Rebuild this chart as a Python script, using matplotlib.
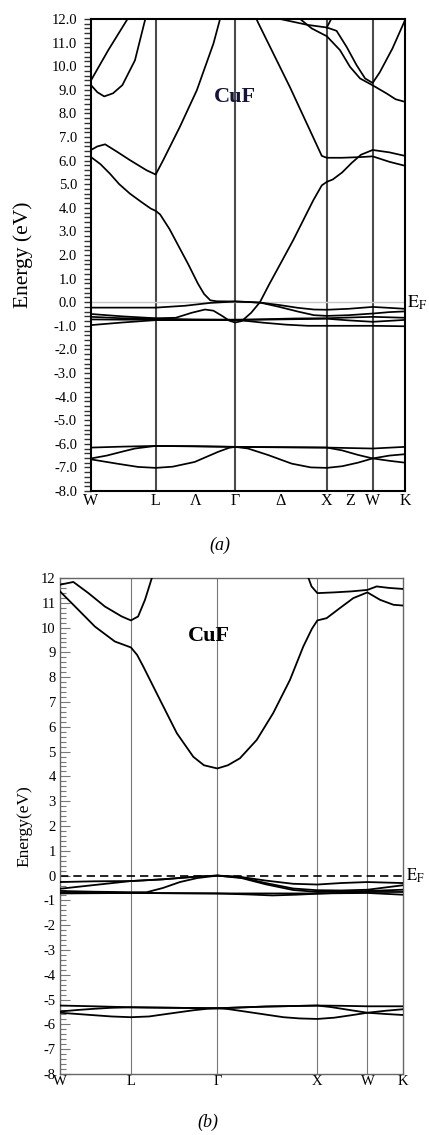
import numpy as np
import matplotlib.pyplot as plt
from matplotlib.ticker import MultipleLocator, FormatStrFormatter

plt.rcParams['font.family'] = ['Liberation Serif', 'DejaVu Serif']
plt.rcParams['mathtext.fontset'] = 'stix'
plt.rcParams['axes.unicode_minus'] = False

# path W-L-Gamma-X-W-K, as fraction of total path length
sym_pos = [0.0, 0.206, 0.459, 0.751, 0.897, 1.0]
labels_a_pos = [0.0, 0.206, 0.333, 0.459, 0.605, 0.751, 0.824, 0.897, 1.0]
labels_a = ['W', 'L', 'Λ', 'Γ', 'Δ', 'X', 'Z', 'W', 'K']
labels_b = ['W', 'L', 'Γ', 'X', 'W', 'K']

# ---- panel (a): bands, (k, E in eV) ----
a_c1 = [(0.0, 6.15), (0.03, 5.85), (0.06, 5.45), (0.09, 5.0), (0.124, 4.6), (0.16, 4.25),
        (0.19, 3.97), (0.206, 3.87), (0.22, 3.72), (0.25, 3.1), (0.28, 2.35), (0.31, 1.6),
        (0.34, 0.8), (0.36, 0.35), (0.38, 0.08), (0.40, 0.04), (0.459, 0.03), (0.50, 0.01),
        (0.54, -0.02), (0.60, -0.12), (0.66, -0.24), (0.71, -0.31), (0.751, -0.32),
        (0.82, -0.28), (0.897, -0.2), (0.95, -0.24), (1.0, -0.28)]
a_c2 = [(0.0, 6.45), (0.02, 6.6), (0.045, 6.69), (0.08, 6.4), (0.124, 6.02), (0.177, 5.59),
        (0.206, 5.41), (0.23, 6.02), (0.283, 7.43), (0.337, 8.98), (0.39, 10.96), (0.411, 12.0),
        (0.459, 13.5), (0.50, 12.8), (0.532, 11.85), (0.634, 9.1), (0.735, 6.2), (0.751, 6.12),
        (0.80, 6.12), (0.86, 6.15), (0.897, 6.18), (0.95, 5.95), (1.0, 5.78)]
a_c3 = [(0.0, 9.2), (0.02, 8.9), (0.042, 8.72), (0.07, 8.85), (0.10, 9.2), (0.14, 10.25),
        (0.172, 11.95), (0.19, 12.9)]
a_c4 = [(0.0, 9.4), (0.055, 10.68), (0.114, 11.95), (0.13, 12.3)]
a_c5 = [(0.602, 12.0), (0.69, 11.75), (0.751, 11.64), (0.782, 11.5), (0.814, 10.82),
        (0.846, 10.04), (0.873, 9.48), (0.897, 9.29), (0.92, 9.75), (0.96, 10.75), (1.0, 11.95)]
a_c6 = [(0.666, 12.0), (0.703, 11.6), (0.751, 11.27), (0.793, 10.68), (0.825, 9.97),
        (0.857, 9.48), (0.897, 9.19), (0.942, 8.84), (0.97, 8.6), (1.0, 8.49)]
a_c7 = [(0.751, 11.64), (0.765, 12.0), (0.78, 12.4)]

a_v1 = [(0.0, -0.23), (0.1, -0.23), (0.206, -0.23), (0.30, -0.15), (0.38, -0.03), (0.459, 0.03),
        (0.50, 0.01), (0.54, -0.02), (0.60, -0.2), (0.66, -0.4), (0.71, -0.55), (0.751, -0.58),
        (0.82, -0.55), (0.897, -0.48), (0.95, -0.42), (1.0, -0.39)]
a_v2 = [(0.0, -0.5), (0.1, -0.6), (0.206, -0.68), (0.27, -0.66), (0.32, -0.45), (0.363, -0.31),
        (0.39, -0.36), (0.42, -0.6), (0.44, -0.78), (0.459, -0.86), (0.48, -0.8), (0.51, -0.45),
        (0.538, 0.0), (0.566, 0.72), (0.60, 1.55), (0.644, 2.63), (0.708, 4.32), (0.735, 4.95),
        (0.751, 5.1), (0.77, 5.2), (0.80, 5.5), (0.83, 5.9), (0.86, 6.25), (0.897, 6.45),
        (0.95, 6.35), (1.0, 6.2)]
a_v3 = [(0.0, -0.62), (0.1, -0.68), (0.206, -0.70), (0.33, -0.73), (0.459, -0.74), (0.55, -0.72),
        (0.65, -0.69), (0.751, -0.68), (0.82, -0.65), (0.897, -0.62), (0.95, -0.64), (1.0, -0.66)]
a_v4 = [(0.0, -0.73), (0.1, -0.74), (0.206, -0.74), (0.33, -0.75), (0.459, -0.76), (0.50, -0.8),
        (0.55, -0.87), (0.62, -0.95), (0.69, -1.0), (0.751, -1.0), (0.82, -1.0), (0.897, -1.0),
        (0.95, -1.01), (1.0, -1.02)]
a_v5 = [(0.0, -0.97), (0.1, -0.86), (0.206, -0.76), (0.33, -0.76), (0.459, -0.76), (0.60, -0.73),
        (0.751, -0.7), (0.82, -0.77), (0.897, -0.83), (0.95, -0.79), (1.0, -0.75)]

a_s1 = [(0.0, -6.16), (0.1, -6.12), (0.206, -6.09), (0.33, -6.1), (0.459, -6.13), (0.6, -6.15),
        (0.751, -6.16), (0.897, -6.2), (1.0, -6.13)]
a_s2 = [(0.0, -6.62), (0.05, -6.5), (0.1, -6.33), (0.14, -6.2), (0.206, -6.09), (0.33, -6.11),
        (0.459, -6.13), (0.6, -6.14), (0.751, -6.16), (0.80, -6.28), (0.85, -6.47), (0.897, -6.62),
        (0.95, -6.72), (1.0, -6.8)]
a_s3 = [(0.0, -6.66), (0.087, -6.85), (0.15, -6.98), (0.206, -7.02), (0.26, -6.97), (0.33, -6.77),
        (0.405, -6.34), (0.44, -6.17), (0.459, -6.13), (0.50, -6.2), (0.565, -6.48), (0.639, -6.84),
        (0.70, -7.0), (0.751, -7.02), (0.80, -6.95), (0.85, -6.8), (0.897, -6.62), (0.95, -6.5),
        (1.0, -6.44)]

bands_a = [a_c1, a_c2, a_c3, a_c4, a_c5, a_c6, a_c7, a_v1, a_v2, a_v3, a_v4, a_v5, a_s1, a_s2, a_s3]

# ---- panel (b) ----
b_c1 = [(0.0, 11.46), (0.044, 10.85), (0.102, 10.04), (0.16, 9.44), (0.207, 9.2), (0.225, 8.9),
        (0.243, 8.43), (0.292, 7.08), (0.341, 5.74), (0.389, 4.79), (0.42, 4.45), (0.459, 4.32),
        (0.49, 4.45), (0.525, 4.73), (0.574, 5.47), (0.622, 6.55), (0.671, 7.89), (0.71, 9.24),
        (0.735, 9.95), (0.751, 10.29), (0.778, 10.38), (0.817, 10.79), (0.856, 11.19),
        (0.897, 11.42), (0.934, 11.12), (0.973, 10.92), (1.0, 10.89)]
b_c2 = [(0.0, 11.73), (0.039, 11.84), (0.083, 11.39), (0.131, 10.85), (0.18, 10.45),
        (0.207, 10.29), (0.228, 10.45), (0.248, 11.12), (0.268, 12.0), (0.30, 13.3),
        (0.459, 16.5), (0.70, 12.9), (0.725, 12.0), (0.734, 11.66), (0.751, 11.39), (0.80, 11.42),
        (0.85, 11.46), (0.897, 11.52), (0.924, 11.66), (0.96, 11.6), (1.0, 11.56)]

b_v1 = [(0.0, -0.26), (0.1, -0.23), (0.207, -0.22), (0.30, -0.15), (0.40, -0.04), (0.459, 0.0),
        (0.52, -0.04), (0.60, -0.2), (0.68, -0.33), (0.751, -0.36), (0.82, -0.3), (0.897, -0.26),
        (1.0, -0.30)]
b_v2 = [(0.0, -0.53), (0.1, -0.38), (0.207, -0.22), (0.30, -0.15), (0.40, -0.04), (0.459, 0.0),
        (0.53, -0.08), (0.60, -0.3), (0.68, -0.52), (0.751, -0.59), (0.82, -0.6), (0.897, -0.57),
        (1.0, -0.39)]
b_v3 = [(0.0, -0.62), (0.1, -0.65), (0.207, -0.67), (0.253, -0.67), (0.30, -0.5), (0.35, -0.26),
        (0.40, -0.1), (0.459, 0.0), (0.53, -0.1), (0.60, -0.35), (0.68, -0.58), (0.751, -0.66),
        (0.82, -0.64), (0.897, -0.62), (1.0, -0.57)]
b_v4 = [(0.0, -0.70), (0.1, -0.70), (0.207, -0.70), (0.33, -0.71), (0.459, -0.72), (0.55, -0.76),
        (0.62, -0.8), (0.69, -0.77), (0.751, -0.73), (0.82, -0.69), (0.897, -0.66), (1.0, -0.66)]
b_v5 = [(0.0, -0.72), (0.1, -0.71), (0.207, -0.70), (0.33, -0.71), (0.459, -0.72), (0.6, -0.72),
        (0.751, -0.72), (0.82, -0.71), (0.897, -0.70), (1.0, -0.77)]

b_s1 = [(0.0, -5.24), (0.1, -5.27), (0.207, -5.31), (0.33, -5.33), (0.459, -5.35), (0.6, -5.28),
        (0.751, -5.24), (0.82, -5.25), (0.897, -5.27), (1.0, -5.27)]
b_s2 = [(0.0, -5.48), (0.05, -5.42), (0.1, -5.37), (0.15, -5.33), (0.207, -5.31), (0.33, -5.33),
        (0.459, -5.35), (0.6, -5.28), (0.751, -5.24), (0.79, -5.3), (0.85, -5.43), (0.897, -5.53),
        (0.95, -5.58), (1.0, -5.62)]
b_s3 = [(0.0, -5.53), (0.05, -5.58), (0.1, -5.63), (0.15, -5.68), (0.207, -5.71), (0.26, -5.68),
        (0.311, -5.58), (0.389, -5.43), (0.43, -5.37), (0.459, -5.35), (0.49, -5.38), (0.554, -5.51),
        (0.652, -5.71), (0.70, -5.76), (0.751, -5.78), (0.80, -5.73), (0.85, -5.63), (0.897, -5.53),
        (0.95, -5.45), (1.0, -5.39)]

bands_b = [b_c1, b_c2, b_v1, b_v2, b_v3, b_v4, b_v5, b_s1, b_s2, b_s3]

W, H = 429, 1135
fig = plt.figure(figsize=(W / 100, H / 100), dpi=100)


def px_axes(left, top, right, bottom):
    return fig.add_axes([left / W, 1 - bottom / H, (right - left) / W, (bottom - top) / H])


def draw_bands(ax, bands, lw):
    for b in bands:
        b = np.array(b)
        ax.plot(b[:, 0], b[:, 1], color='k', lw=lw, zorder=3, solid_joinstyle='round')


# ---------------- (a) ----------------
ax = px_axes(91, 19, 405, 491)
for x in sym_pos[1:-1]:
    ax.axvline(x, color='#4a4a4a', lw=1.5, zorder=1)
ax.axhline(0, color='#c8c8c8', lw=1.0, zorder=2)
draw_bands(ax, bands_a, 1.25)
ax.set_xlim(0, 1)
ax.set_ylim(-8, 12)
ax.yaxis.set_major_locator(MultipleLocator(1.0))
ax.yaxis.set_minor_locator(MultipleLocator(0.2))
ax.yaxis.set_major_formatter(FormatStrFormatter('%.1f'))
ax.tick_params(axis='y', which='both', direction='out', length=5, width=1.0, labelsize=10.5,
               pad=5, color='#333333')
ax.set_xticks(labels_a_pos)
ax.set_xticklabels(labels_a)
ax.tick_params(axis='x', length=0, labelsize=11.5, pad=1.5)
for s in ax.spines.values():
    s.set_linewidth(1.5)
ax.set_ylabel('Energy (eV)', fontsize=15.5)
ax.yaxis.set_label_coords(-0.185, 0.5)
fig.text(405 / W + 0.005, 1 - 303 / H, r'$\mathrm{E_F}$', fontsize=13, va='center', ha='left')
ax.text(0.459, 8.7, 'CuF', fontsize=16, fontweight='bold', color='#14143a',
        ha='center', va='center', zorder=4)
fig.text(220 / W, 1 - 545 / H, '(a)', fontsize=13, style='italic', ha='center', va='center')

# ---------------- (b) ----------------
ax = px_axes(60, 578, 402.7, 1074)
for x in sym_pos[1:-1]:
    ax.axvline(x, color='#777777', lw=0.8, zorder=1)
ax.axhline(0, color='k', lw=1.2, ls='--', dashes=(5, 3), zorder=2)
draw_bands(ax, bands_b, 1.3)
ax.set_xlim(0, 1)
ax.set_ylim(-8, 12)
ax.yaxis.set_major_locator(MultipleLocator(1))
ax.yaxis.set_minor_locator(MultipleLocator(0.2))
ax.tick_params(axis='y', which='major', direction='in', length=7, width=0.8, labelsize=10.5,
               pad=3, color='#777777')
ax.tick_params(axis='y', which='minor', direction='in', length=4, width=0.8, color='#777777')
ax.set_xticks(sym_pos)
ax.set_xticklabels(labels_b)
ax.tick_params(axis='x', length=0, labelsize=10.5, pad=1)
for s in ax.spines.values():
    s.set_linewidth(1.0)
    s.set_color('#666666')
ax.set_ylabel('Energy(eV)', fontsize=12.5)
ax.yaxis.set_label_coords(-0.079, 0.5)
fig.text(404 / W + 0.005, 1 - 876 / H, r'$\mathrm{E_F}$', fontsize=12, va='center', ha='left')
ax.text(0.435, 9.65, 'CuF', fontsize=16, fontweight='bold', color='k',
        ha='center', va='center', zorder=4)
fig.text(208 / W, 1 - 1122 / H, '(b)', fontsize=13, style='italic', ha='center', va='center')

fig.savefig('out.png', dpi=100)
